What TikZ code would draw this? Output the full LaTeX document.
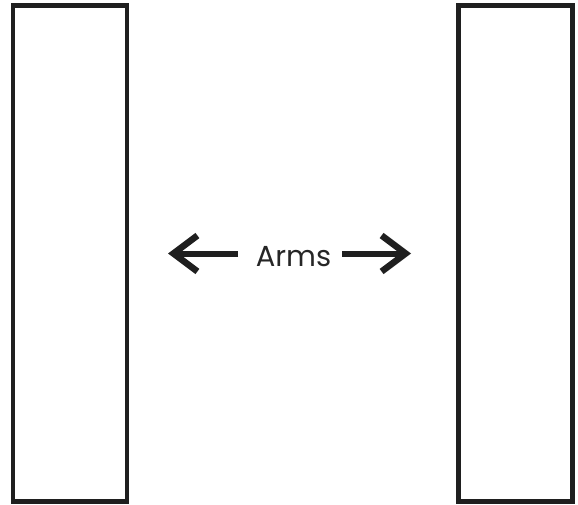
\documentclass[tikz,border=0pt]{standalone}
\usepackage{fontspec}
\setmainfont{Poppins}
\usetikzlibrary{arrows.meta}
\tikzset{
  panel/.style={draw=black!88, line width=4.6pt, fill=white},
  armarrow/.style={draw=black!88, line width=6pt, -{Straight Barb[length=24pt,width=36pt,line width=6.5pt,sharp]}},
  lbl/.style={font=\fontsize{29}{32}\selectfont, text=black!85, inner sep=0pt}
}
\begin{document}
\begin{tikzpicture}[x=1pt,y=1pt]
\useasboundingbox (0,0) rectangle (578,-505);
\node[panel, minimum width=114pt, minimum height=496pt, inner sep=0pt] (left) at (70,-253.5) {};
\node[panel, minimum width=114pt, minimum height=496pt, inner sep=0pt] (right) at (515.5,-253.5) {};
\node[lbl, anchor=base] (arms) at (293.5,-266) {Arms};
\coordinate (ls) at (238,-253.5);
\coordinate (lt) at (168,-253.5);
\coordinate (rs) at (342,-253.5);
\coordinate (rt) at (411,-253.5);
\draw[armarrow] (ls) -- (lt);
\draw[armarrow] (rs) -- (rt);
\end{tikzpicture}
\end{document}
